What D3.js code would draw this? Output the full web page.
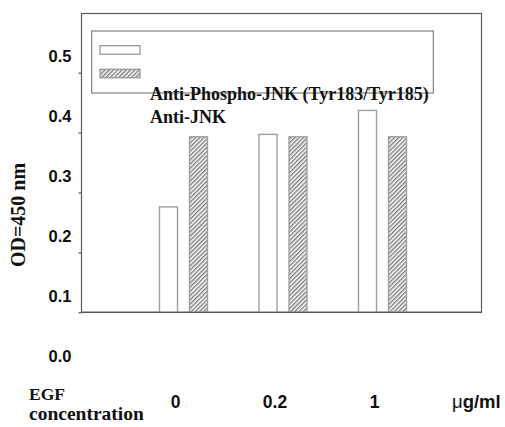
<!DOCTYPE html>
<html>
<head>
<meta charset="utf-8">
<script src="https://cdn.jsdelivr.net/npm/d3@7"></script>
<style>
  html, body { margin: 0; padding: 0; background: #fff; }
  svg { display: block; }
  .serif { font-family: 'Liberation Serif', 'Times New Roman', serif; font-weight: bold; }
  .sans { font-family: 'Liberation Sans', Arial, sans-serif; font-weight: bold; }
</style>
</head>
<body>
<div id="chart"></div>
<script>
// ---- data ----
const categories = ["0", "0.2", "1"];
const seriesNames = ["Anti-Phospho-JNK (Tyr183/Tyr185)", "Anti-JNK"];
const phosphoJNK = [0.276, 0.397, 0.437];
const totalJNK = [0.393, 0.393, 0.393];
const yTickValues = [0.1, 0.2, 0.3, 0.4, 0.5];
const yLabelValues = [0.0, 0.1, 0.2, 0.3, 0.4, 0.5];
const yTitle = "OD=450 nm";
const xTitleLines = ["EGF", "concentration"];
const unitLabel = "\u03BCg/ml";

// ---- layout ----
const W = 505, H = 427;
const plot = { left: 81.5, right: 481.5, top: 13.5, bottom: 312.3 };

const svg = d3.select("#chart").append("svg")
  .attr("width", W).attr("height", H);

const defs = svg.append("defs");
const ps = 3;
const pat = defs.append("pattern")
  .attr("id", "hatch")
  .attr("patternUnits", "userSpaceOnUse")
  .attr("width", ps).attr("height", ps)
  .attr("patternTransform", "rotate(45)");
pat.append("rect").attr("width", ps).attr("height", ps).attr("fill", "#fff");
pat.append("line").attr("x1", 0.75).attr("y1", 0).attr("x2", 0.75).attr("y2", ps)
  .attr("stroke", "#7a7a7a").attr("stroke-width", 1.4);

// scales
const y = d3.scaleLinear().domain([0.1, 0.5]).range([plot.bottom, 72.7]);
const x = d3.scalePoint().domain(categories).range([84, 482]).padding(1);
const xInner = d3.scaleBand().domain(seriesNames).range([-24, 24]).paddingInner(0.4).paddingOuter(0);

const rows = categories.map((c, i) => ({ cat: c, values: [phosphoJNK[i], totalJNK[i]] }));

// frame
svg.append("rect")
  .attr("x", plot.left).attr("y", plot.top)
  .attr("width", plot.right - plot.left).attr("height", plot.bottom - plot.top)
  .attr("fill", "none").attr("stroke", "#5a5a5a").attr("stroke-width", 1.2);

// y axis ticks
const yAxis = svg.append("g")
  .attr("transform", `translate(${plot.left},0)`)
  .call(d3.axisLeft(y).tickValues(yTickValues).tickSize(3).tickFormat(""));
yAxis.select(".domain").remove();
yAxis.selectAll(".tick line").attr("stroke", "#5a5a5a").attr("stroke-width", 1.2);

// y labels (drawn offset above their ticks, as in the reference)
svg.append("g").selectAll("text").data(yLabelValues).join("text")
  .attr("class", "sans")
  .attr("x", 71.5)
  .attr("y", d => y(d) - 16)
  .attr("dy", "0.35em")
  .attr("text-anchor", "end")
  .attr("font-size", 16.5)
  .attr("fill", "#111")
  .text(d => d.toFixed(1));

// y title
svg.append("text")
  .attr("class", "serif")
  .attr("transform", `translate(25,215) rotate(-90)`)
  .attr("text-anchor", "middle")
  .attr("font-size", 20)
  .attr("fill", "#111")
  .text(yTitle);

// legend box
svg.append("rect")
  .attr("x", 91.7).attr("y", 31)
  .attr("width", 433.3 - 91.7).attr("height", 93 - 31)
  .attr("fill", "#fff").attr("stroke", "#777").attr("stroke-width", 1.1);

const fills = ["#fff", "url(#hatch)"];
const legend = svg.append("g");
seriesNames.forEach((name, i) => {
  legend.append("rect")
    .attr("x", 100).attr("y", 45.7 + i * 23.6)
    .attr("width", 40).attr("height", 8.5)
    .attr("fill", fills[i]).attr("stroke", "#999").attr("stroke-width", 1.3);
  legend.append("text")
    .attr("class", "serif")
    .attr("x", 150).attr("y", 100 + i * 23)
    .attr("font-size", 18)
    .attr("fill", "#111")
    .text(name);
});

// bars
const groups = svg.append("g").selectAll("g").data(rows).join("g")
  .attr("transform", d => `translate(${x(d.cat)},0)`);
groups.selectAll("rect")
  .data(d => d.values.map((v, i) => ({ name: seriesNames[i], v, i })))
  .join("rect")
  .attr("x", d => xInner(d.name))
  .attr("width", xInner.bandwidth())
  .attr("y", d => y(d.v))
  .attr("height", d => y(0.1) - y(d.v))
  .attr("fill", d => fills[d.i])
  .attr("stroke", "#a0a0a0")
  .attr("stroke-width", 1.4);

// redraw bottom axis line on top
svg.append("line")
  .attr("x1", plot.left).attr("x2", plot.right)
  .attr("y1", plot.bottom).attr("y2", plot.bottom)
  .attr("stroke", "#555").attr("stroke-width", 1.3);

// x category labels
svg.append("g").selectAll("text").data(categories).join("text")
  .attr("class", "sans")
  .attr("x", d => x(d) - 8)
  .attr("y", 408)
  .attr("text-anchor", "middle")
  .attr("font-size", 17.5)
  .attr("fill", "#111")
  .text(d => d);

// unit
const unit = svg.append("text")
  .attr("class", "sans")
  .attr("x", 452).attr("y", 408)
  .attr("font-size", 18.5)
  .attr("fill", "#111");
unit.append("tspan").attr("font-weight", "normal").style("font-weight", "normal").text(unitLabel.slice(0, 1));
unit.append("tspan").text(unitLabel.slice(1));

// x title
const xt = svg.append("text")
  .attr("class", "serif")
  .attr("fill", "#111");
xt.append("tspan").attr("x", 29).attr("y", 400).attr("font-size", 17.5).text(xTitleLines[0]);
xt.append("tspan").attr("x", 29).attr("y", 419.5).attr("font-size", 19.5).text(xTitleLines[1]);
</script>
</body>
</html>
